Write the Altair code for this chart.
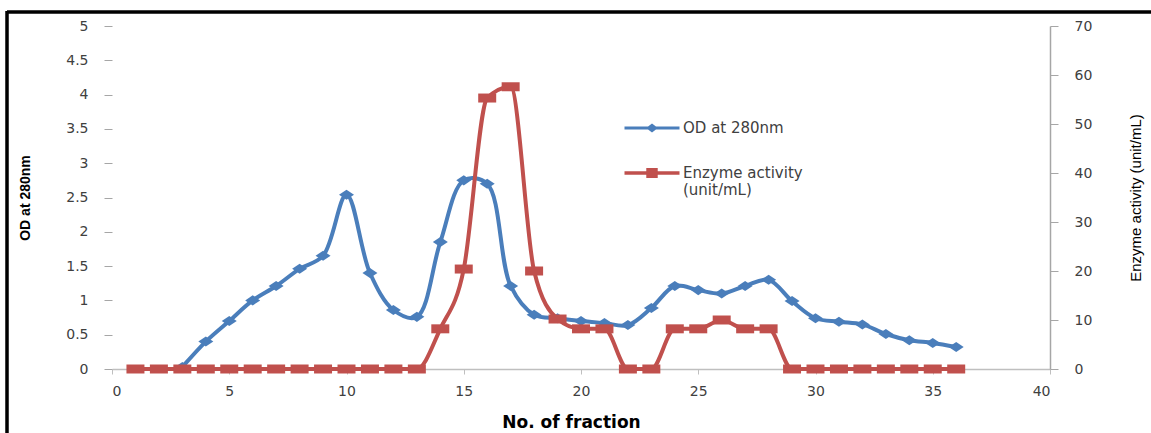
import altair as alt
import pandas as pd

# ---- data ----
fraction_od = list(range(3, 37))
od_280 = [0.03, 0.40, 0.70, 1.00, 1.21, 1.46, 1.65, 2.54, 1.40, 0.86, 0.76,
          1.85, 2.75, 2.70, 1.21, 0.79, 0.74, 0.70, 0.67, 0.64, 0.89, 1.21,
          1.15, 1.10, 1.21, 1.30, 0.99, 0.74, 0.69, 0.65, 0.51, 0.42, 0.38, 0.32]
fraction_enz = list(range(1, 37))
enzyme = [0, 0, 0, 0, 0, 0, 0, 0, 0, 0, 0, 0, 0,
          8.2, 20.4, 55.3, 57.6, 20.0, 10.2, 8.2, 8.2, 0, 0,
          8.2, 8.2, 10.0, 8.2, 8.2,
          0, 0, 0, 0, 0, 0, 0, 0]
series_names = ["OD at 280nm", "Enzyme activity|(unit/mL)"]
x_ticks = [0, 5, 10, 15, 20, 25, 30, 35, 40]
y_left_ticks = [0, 0.5, 1, 1.5, 2, 2.5, 3, 3.5, 4, 4.5, 5]
y_right_ticks = [0, 10, 20, 30, 40, 50, 60, 70]

BLUE = "#4A7EBB"
RED = "#C0504D"
W, H = 938, 343
TICK_FONT = "DejaVu Sans"
NARROW = "Liberation Sans, Arial, sans-serif"

df_od = pd.DataFrame({"fraction": fraction_od, "od": od_280})
df_enz = pd.DataFrame({"fraction": fraction_enz, "enz": enzyme})
df_leg = pd.DataFrame({"series": series_names})

DIAMOND = "M0,-0.67L1,0L0,0.67L-1,0Z"
RECT = "M-1,-0.5L1,-0.5L1,0.5L-1,0.5Z"
LEG_OD = ("M-1.25,-0.068L1.25,-0.068L1.25,0.068L-1.25,0.068Z "
          "M0,-0.2L0.27,0L0,0.2L-0.27,0Z")
LEG_ENZ = ("M-1.25,-0.085L1.25,-0.085L1.25,0.085L-1.25,0.085Z "
           "M-0.26,-0.23L0.26,-0.23L0.26,0.23L-0.26,0.23Z")

x_enc = alt.X(
    "fraction:Q",
    scale=alt.Scale(domain=[0, 40], nice=False),
    axis=alt.Axis(
        values=x_ticks, tickCount=len(x_ticks), title="No. of fraction",
        grid=False, domainColor="#BFBFBF", domainWidth=1.5, tickColor="#BFBFBF",
        tickSize=5, labelPadding=10, labelFont=TICK_FONT, labelFontSize=14,
        labelColor="#404040", labelOverlap=False,
        titleFont="DejaVu Sans", titleFontSize=17,
        titleFontWeight="bold", titleColor="#000000",
        titleX=459, titleY=53, titleBaseline="middle", titleAlign="center",
    ),
)

blue_line = alt.Chart(df_od).mark_line(
    color=BLUE, strokeWidth=4, interpolate="catmull-rom"
).encode(
    x=x_enc,
    y=alt.Y(
        "od:Q",
        scale=alt.Scale(domain=[0, 5], nice=False),
        axis=alt.Axis(
            values=y_left_ticks, tickCount=len(y_left_ticks), format="~g",
            title="OD at 280nm", grid=False,
            domain=False, tickColor="#A6A6A6", tickSize=8, labelPadding=16,
            labelFont=TICK_FONT, labelFontSize=14, labelColor="#404040",
            labelOverlap=False,
            titleFont=NARROW, titleFontSize=14, titleFontWeight="bold",
            titleColor="#000000", titleAngle=270, titleX=-87, titleY=H / 2,
            titleBaseline="middle", titleAlign="center",
        ),
    ),
)
blue_pts = alt.Chart(df_od).mark_point(
    filled=True, opacity=1, color=BLUE, shape=DIAMOND, size=225, strokeWidth=0
).encode(x="fraction:Q", y="od:Q")

legend_layer = alt.Chart(df_leg).mark_point(
    filled=True, opacity=0, size=1936, strokeWidth=0
).encode(
    color=alt.Color(
        "series:N",
        scale=alt.Scale(domain=series_names, range=[BLUE, RED]),
        legend=alt.Legend(
            title=None, orient="none", legendX=518, legendY=80,
            symbolOpacity=1, symbolSize=1936, symbolStrokeWidth=0,
            labelExpr="split(datum.label, '|')", labelFont=TICK_FONT,
            labelFontSize=15, labelColor="#404040", labelOffset=9,
            rowPadding=15, padding=0, labelLimit=300,
        ),
    ),
    shape=alt.Shape(
        "series:N",
        scale=alt.Scale(domain=series_names, range=[LEG_OD, LEG_ENZ]),
        legend=None,
    ),
)

frame_top = alt.Chart(df_leg).mark_rule(color="black", strokeWidth=3).encode(
    x=alt.value(-105), x2=alt.value(1050), y=alt.value(-14)
)
frame_left = alt.Chart(df_leg).mark_rule(color="black", strokeWidth=3).encode(
    x=alt.value(-105), y=alt.value(-15), y2=alt.value(420)
)

left_group = alt.layer(blue_line, blue_pts, legend_layer, frame_top, frame_left)

red_line = alt.Chart(df_enz).mark_line(
    color=RED, strokeWidth=4, interpolate="monotone"
).encode(
    x=alt.X("fraction:Q", scale=alt.Scale(domain=[0, 40], nice=False)),
    y=alt.Y(
        "enz:Q",
        scale=alt.Scale(domain=[0, 70], nice=False),
        axis=alt.Axis(
            orient="right", values=y_right_ticks, tickCount=len(y_right_ticks),
            title="Enzyme activity (unit/mL)",
            grid=False, domainColor="#A6A6A6", domainWidth=1.5,
            tickColor="#A6A6A6", tickSize=8, labelPadding=16,
            labelFont=TICK_FONT, labelFontSize=14, labelColor="#404040",
            labelOverlap=False,
            titleFont=NARROW, titleFontSize=15, titleFontWeight="normal",
            titleColor="#000000", titleAngle=270, titleX=85, titleY=H / 2,
            titleBaseline="middle", titleAlign="center",
        ),
    ),
)
red_pts = alt.Chart(df_enz).mark_point(
    filled=True, opacity=1, color=RED, shape=RECT, size=324, strokeWidth=0
).encode(x="fraction:Q", y="enz:Q")

right_group = alt.layer(red_line, red_pts)

chart = alt.layer(left_group, right_group).resolve_scale(
    y="independent"
).properties(
    width=W, height=H,
    autosize=alt.AutoSizeParams(type="none"),
    padding={"left": 112, "top": 26, "right": 101, "bottom": 64},
    background="white",
).configure_view(stroke=None)

chart.save("out.html", embed_options={"renderer": "svg", "actions": False})
